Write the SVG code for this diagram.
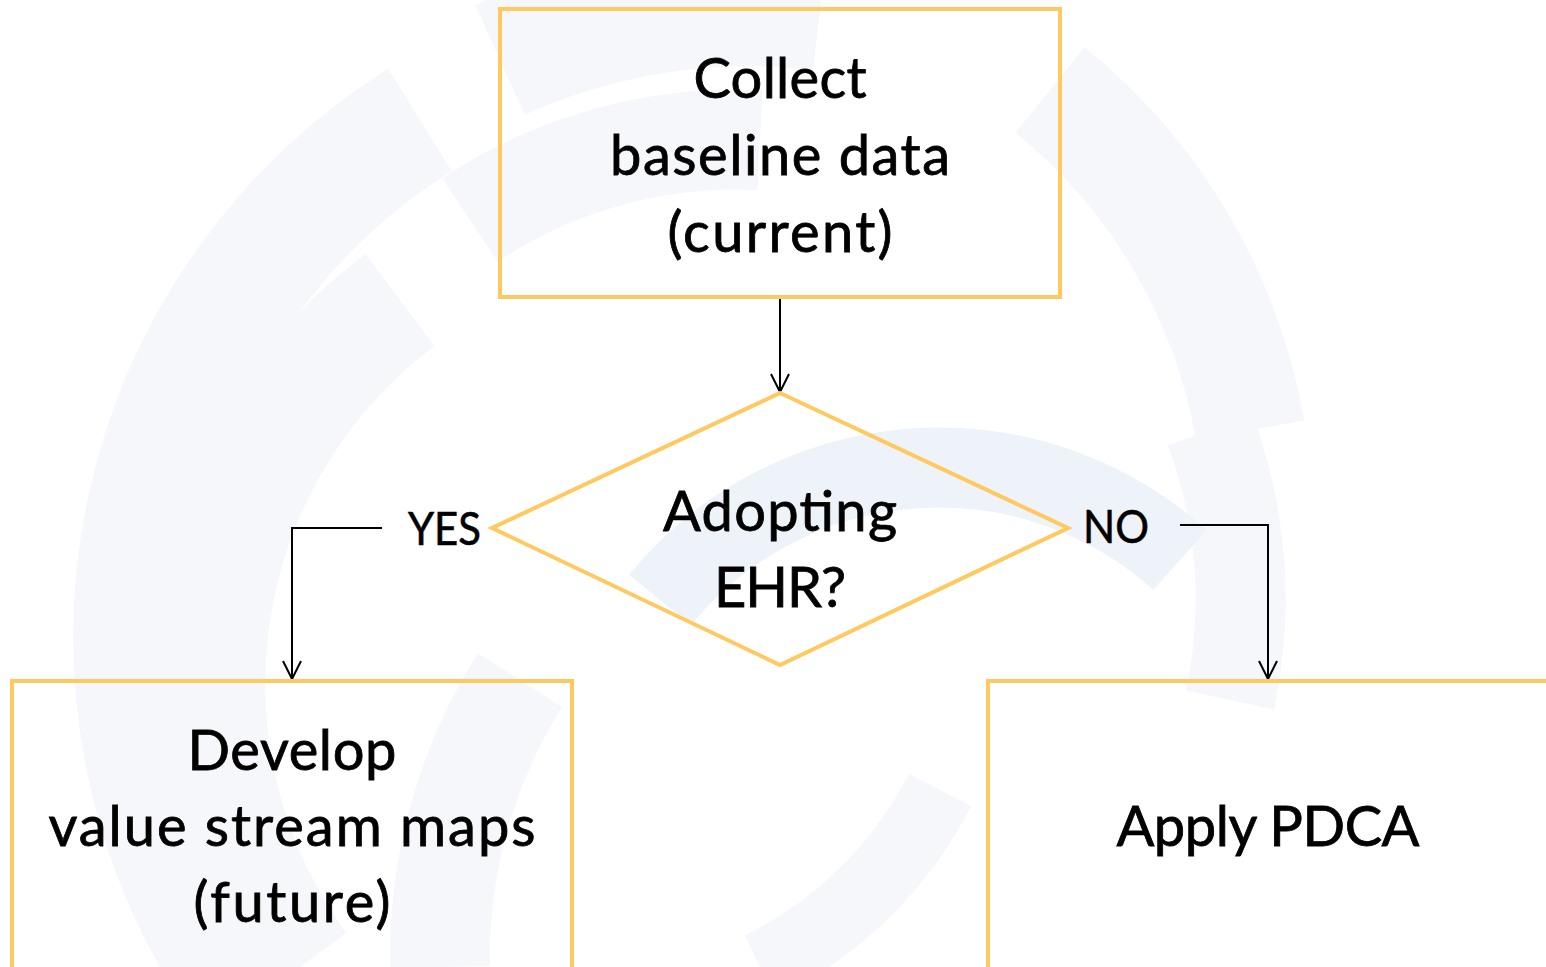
<svg xmlns="http://www.w3.org/2000/svg" width="1546" height="967" viewBox="0 0 1546 967">
  <style>
    .box { fill: none; stroke: #FFC960; stroke-width: 4; }
    .big { font-family: Lato, "Open Sans", "Liberation Sans", sans-serif; font-size: 56px; fill: #000; stroke: #000; stroke-width: 0.8; text-anchor: middle; }
    .lbl { font-family: Lato, "Open Sans", "Liberation Sans", sans-serif; font-size: 46px; fill: #000; stroke: #000; stroke-width: 0.6; }
    .wire { fill: none; stroke: #000; stroke-width: 2; }
    .band { fill: none; stroke: #f6f7fb; }
  </style>
  <defs>
    <marker id="arrow" viewBox="0 0 20 20" refX="19" refY="10" markerWidth="20" markerHeight="20" markerUnits="userSpaceOnUse" orient="auto">
      <path d="M1,1 L19,10 L1,19" fill="none" stroke="#000" stroke-width="2"/>
    </marker>
  </defs>

  <rect width="1546" height="967" fill="#fff"/>

  <!-- faint circular-arrows watermark -->
  <g id="watermark">
    <!-- outer band, left and top -->
    <path class="band" stroke-width="120" d="M 230 967 A 610 610 0 0 1 420 120"/>
    <path class="band" stroke-width="120" d="M 500 60 A 610 610 0 0 1 820 10"/>
    <!-- inner band -->
    <path class="band" stroke-width="115" d="M 300 967 A 480 480 0 0 1 400 300"/>
    <path class="band" stroke-width="100" d="M 470 220 A 480 480 0 0 1 760 140"/>
    <path class="band" stroke-width="110" d="M 1050 90 A 560 560 0 0 1 1250 430"/>
    <path class="band" stroke-width="90" d="M 1210 430 A 480 480 0 0 1 1230 700"/>
    <!-- inner blue arc behind the decision -->
    <path fill="none" stroke="#eef2f9" stroke-width="80" d="M 660 600 A 360 360 0 0 1 1180 560"/>
    <!-- lower faint shapes -->
    <path class="band" stroke-width="100" d="M 440 967 A 520 520 0 0 1 520 680"/>
    <path class="band" stroke-width="70" d="M 760 967 A 400 400 0 0 0 940 790"/>
  </g>

  <!-- connectors -->
  <g id="connectors">
    <path class="wire" d="M 780 297 L 780 392" marker-end="url(#arrow)"/>
    <path class="wire" d="M 382 528 L 292 528 L 292 679" marker-end="url(#arrow)"/>
    <path class="wire" d="M 1180 525 L 1268 525 L 1268 679" marker-end="url(#arrow)"/>
    <text class="lbl" x="408" y="545" textLength="73" lengthAdjust="spacingAndGlyphs">YES</text>
    <text class="lbl" x="1083" y="543" textLength="66" lengthAdjust="spacingAndGlyphs">NO</text>
  </g>

  <g id="collect">
    <rect class="box" x="500" y="9" width="560" height="288"/>
    <text class="big" x="780" y="98" textLength="173">Collect</text>
    <text class="big" x="780" y="175" textLength="340">baseline data</text>
    <text class="big" x="780" y="252" textLength="225">(current)</text>
  </g>

  <g id="decision">
    <polygon class="box" points="780,393 1068,528 780,665 492,528"/>
    <text class="big" x="780" y="531" textLength="234">Adopting</text>
    <text class="big" x="780" y="607" textLength="132">EHR?</text>
  </g>

  <g id="develop">
    <rect class="box" x="12" y="681" width="560" height="300"/>
    <text class="big" x="292" y="770" textLength="209">Develop</text>
    <text class="big" x="292" y="846" textLength="487">value stream maps</text>
    <text class="big" x="292" y="922" textLength="197">(future)</text>
  </g>

  <g id="pdca">
    <rect class="box" x="988" y="681" width="570" height="300"/>
    <text class="big" x="1268" y="846" textLength="303">Apply PDCA</text>
  </g>
</svg>
